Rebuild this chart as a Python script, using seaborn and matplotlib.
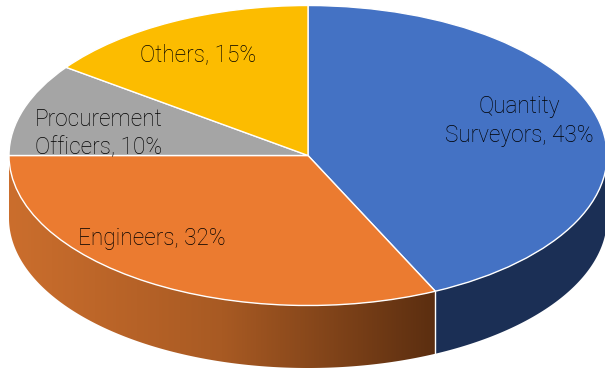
import numpy as np
import matplotlib
matplotlib.use("Agg")
import matplotlib.pyplot as plt
from matplotlib.colors import ListedColormap
from matplotlib.patches import Polygon
import seaborn as sns

roles = ["Quantity\nSurveyors", "Engineers", "Procurement\nOfficers", "Others"]
shares = [43, 32, 10, 15]
top_colors = ["#4472C4", "#EB7B30", "#A5A5A5", "#FCBC00"]

sns.set_theme(style="white")
plt.rcParams["font.family"] = ["Roboto", "DejaVu Sans"]

# Canvas geometry of the tilted disc, in pixels
W, H = 605, 369
CX, CY, RX, RY, DEPTH = 308.0, 155.5, 299.0, 150.0, 62.5

fig = plt.figure(figsize=(W / 100, H / 100), dpi=100)
ax = fig.add_axes([0, 0, 1, 1])

# Top face: a unit pie squashed by unequal axis scales
wedges, _ = ax.pie(
    shares, colors=top_colors, startangle=90, counterclock=False, radius=1,
    wedgeprops=dict(edgecolor="white", linewidth=1.0, zorder=5),
)
xlim = (-CX / RX, (W - CX) / RX)
ylim = (-(H - CY) / RY, CY / RY)

depth_units = DEPTH / RY
total = sum(shares)
edges = 90 - 360 * np.cumsum([0] + shares) / total


def rim_outline(start, stop):
    """Closed outline of the front-facing rim between two angles in degrees."""
    lo, hi = max(stop, -180), min(start, 0)
    theta = np.radians(np.linspace(lo, hi, 240))
    upper = np.column_stack([np.cos(theta), np.sin(theta)])
    lower = upper[::-1] - [0, depth_units]
    return np.vstack([upper, lower])


# Blue rim: flat dark shade
blue_rim = Polygon(rim_outline(edges[0], edges[1]), closed=True,
                   facecolor="#1B2F55", edgecolor="none", zorder=2)
ax.add_patch(blue_rim)

# Orange rim: left-to-right darkening gradient clipped to the rim outline
outline = rim_outline(edges[1], edges[2])
orange_ramp = ListedColormap(sns.blend_palette(["#CB6E2D", "#A85A23", "#5B2E10"], 256))
shade = ax.imshow(
    np.linspace(0, 1, 256).reshape(1, -1), cmap=orange_ramp, aspect="auto",
    extent=(outline[:, 0].min(), outline[:, 0].max(),
            outline[:, 1].min(), outline[:, 1].max()),
    interpolation="bilinear", zorder=2,
)
clip = Polygon(outline, closed=True, transform=ax.transData, facecolor="none", edgecolor="none")
ax.add_patch(clip)
shade.set_clip_path(clip)

# White seam where the two visible rim sections meet
seam = np.radians(edges[1])
ax.plot([np.cos(seam)] * 2, [np.sin(seam), np.sin(seam) - depth_units],
        color="white", lw=1.0, zorder=4, solid_capstyle="butt")

ax.set_aspect("auto")
ax.set_xlim(*xlim)
ax.set_ylim(*ylim)
ax.set_axis_off()


def to_data(px, py):
    return (px - CX) / RX, (CY - py) / RY


# Slice captions, placed at their pixel locations on the disc
label_anchor = [(519, 121), (152, 239), (99, 134), (198, 55)]
for role, share, (px, py) in zip(roles, shares, label_anchor):
    x, y = to_data(px, py)
    ax.text(x, y, f"{role}, {share}%", ha="center", va="center",
            fontsize=16.3, fontweight="light", color="black",
            linespacing=1.28, zorder=6)

fig.savefig("out.png", dpi=100, facecolor="white")
